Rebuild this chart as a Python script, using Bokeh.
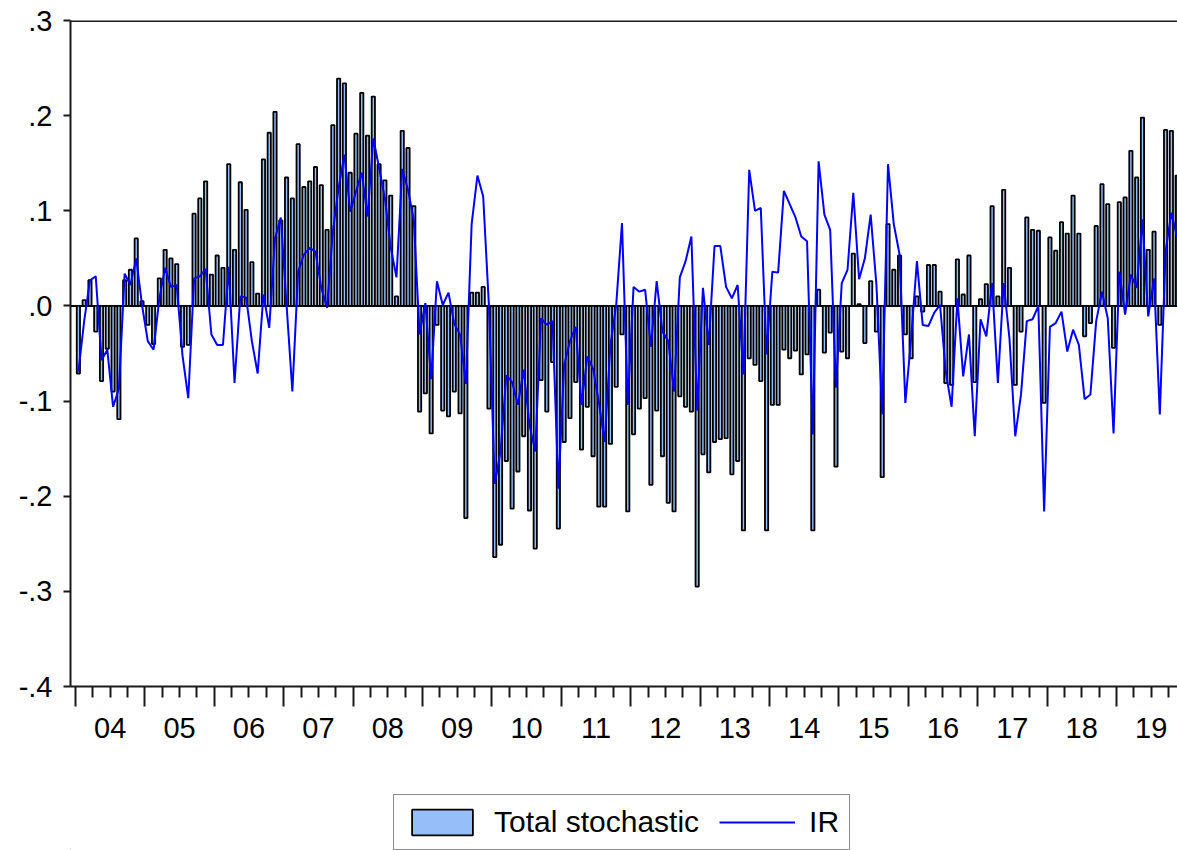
from bokeh.plotting import figure
from bokeh.layouts import column
from bokeh.models import (Range1d, LinearAxis, FixedTicker, ColumnDataSource,
                          Span, Legend, LegendItem)
from bokeh.embed import file_html
from bokeh.resources import INLINE

# Monthly observations, 2004m01 .. 2019m11
year_labels = ["04", "05", "06", "07", "08", "09", "10", "11",
               "12", "13", "14", "15", "16", "17", "18", "19"]

total_stochastic = [
    -0.071, 0.006, 0.027, -0.027, -0.079, -0.045, -0.090, -0.119, 0.027, 0.038, 0.071, 0.005,   # 2004
    -0.020, -0.040, 0.029, 0.059, 0.050, 0.044, -0.043, -0.041, 0.097, 0.113, 0.131, 0.033,     # 2005
    0.053, 0.040, 0.149, 0.059, 0.130, 0.101, 0.046, 0.013, 0.154, 0.182, 0.204, 0.090,         # 2006
    0.135, 0.113, 0.170, 0.125, 0.131, 0.146, 0.127, 0.080, 0.190, 0.239, 0.234, 0.140,         # 2007
    0.181, 0.224, 0.179, 0.220, 0.149, 0.132, 0.116, 0.010, 0.184, 0.166, 0.105, -0.111,        # 2008
    -0.092, -0.134, -0.020, -0.110, -0.116, -0.090, -0.113, -0.223, 0.014, 0.014, 0.020, -0.108,  # 2009
    -0.264, -0.251, -0.163, -0.213, -0.174, -0.137, -0.215, -0.255, -0.078, -0.111, -0.059, -0.234,  # 2010
    -0.143, -0.118, -0.080, -0.151, -0.106, -0.158, -0.211, -0.211, -0.145, -0.085, -0.030, -0.216,  # 2011
    -0.135, -0.108, -0.097, -0.188, -0.110, -0.158, -0.207, -0.216, -0.095, -0.106, -0.111, -0.295,  # 2012
    -0.156, -0.175, -0.143, -0.140, -0.139, -0.177, -0.163, -0.236, -0.055, -0.062, -0.079, -0.236,  # 2013
    -0.104, -0.104, -0.046, -0.055, -0.047, -0.072, -0.051, -0.236, 0.017, -0.049, -0.028, -0.169,   # 2014
    -0.048, -0.055, 0.055, 0.002, -0.039, 0.026, -0.027, -0.180, 0.086, 0.038, 0.053, -0.030,       # 2015
    -0.055, 0.010, -0.006, 0.043, 0.043, 0.015, -0.081, -0.083, 0.049, 0.012, 0.053, -0.080,        # 2016
    0.007, 0.023, 0.105, 0.010, 0.122, 0.040, -0.083, -0.027, 0.093, 0.080, 0.079, -0.102,          # 2017
    0.072, 0.058, 0.088, 0.076, 0.116, 0.076, -0.032, -0.018, 0.084, 0.128, 0.107, -0.044,          # 2018
    0.109, 0.114, 0.163, 0.135, 0.198, 0.059, 0.078, -0.020, 0.185, 0.184, 0.137,                   # 2019
]

ir = [
    -0.069, -0.016, 0.027, 0.031, -0.057, -0.046, -0.106, -0.087, 0.034, 0.022, 0.050, 0.001,
    -0.037, -0.046, 0.008, 0.040, 0.020, 0.022, -0.052, -0.097, 0.029, 0.031, 0.039, -0.030,
    -0.041, -0.041, 0.041, -0.081, 0.010, 0.009, -0.037, -0.071, 0.012, -0.023, 0.071, 0.093,
    0.001, -0.090, 0.036, 0.054, 0.061, 0.057, 0.019, -0.002, 0.078, 0.124, 0.159, 0.099,
    0.120, 0.140, 0.094, 0.176, 0.145, 0.113, 0.062, 0.030, 0.144, 0.122, 0.090, -0.030,
    0.003, -0.077, 0.026, 0.001, 0.014, -0.019, -0.030, -0.082, 0.086, 0.137, 0.115, -0.001,
    -0.187, -0.153, -0.073, -0.080, -0.104, -0.067, -0.125, -0.153, -0.013, -0.020, -0.016, -0.192,
    -0.062, -0.037, -0.022, -0.104, -0.053, -0.066, -0.101, -0.143, -0.041, 0.001, 0.087, -0.104,
    0.020, 0.015, 0.017, -0.043, 0.026, -0.027, -0.037, -0.090, 0.030, 0.047, 0.073, -0.110,
    0.019, -0.041, 0.063, 0.063, 0.020, 0.008, 0.022, -0.072, 0.143, 0.100, 0.103, -0.051,
    0.036, 0.035, 0.121, 0.107, 0.093, 0.073, 0.068, -0.135, 0.152, 0.096, 0.080, -0.086,
    0.024, 0.038, 0.119, 0.028, 0.050, 0.096, 0.022, -0.114, 0.149, 0.086, 0.054, -0.102,
    -0.034, 0.047, -0.020, -0.021, -0.007, 0.001, -0.070, -0.106, 0.008, -0.074, -0.030, -0.137,
    -0.014, -0.032, 0.024, -0.081, 0.024, -0.034, -0.137, -0.093, -0.016, -0.014, 0.000, -0.216,
    -0.022, -0.018, -0.006, -0.048, -0.025, -0.041, -0.098, -0.093, -0.016, 0.015, -0.013, -0.134,
    0.036, -0.009, 0.033, 0.019, 0.091, -0.011, 0.029, -0.114, 0.057, 0.098, 0.072,
]

y_ticks = [-0.4, -0.3, -0.2, -0.1, 0.0, 0.1, 0.2, 0.3]
y_tick_labels = ["-.4", "-.3", "-.2", "-.1", ".0", ".1", ".2", ".3"]
series_names = ["Total stochastic", "IR"]

n = len(total_stochastic)
src = ColumnDataSource(dict(x=list(range(n)), bar=total_stochastic, ir=ir))

FONT = "Liberation Sans"
AX = "#1a1a1a"
BAR_FILL = "#96BEF8"
LINE_COL = "#0000FF"

p = figure(width=1177, height=760, output_backend="svg", toolbar_location=None,
           x_range=Range1d(-1.365, 190.06), y_range=Range1d(-0.4, 0.3),
           x_axis_location=None, y_axis_location=None,
           min_border_left=70, min_border_right=0, min_border_top=20,
           min_border_bottom=74)
p.grid.visible = False
p.outline_line_color = None
p.background_fill_color = "white"
p.border_fill_color = "white"

# zero line and top frame line
p.add_layout(Span(location=0, dimension="width", line_color="black",
                  line_width=2, level="underlay"))
p.add_layout(Span(location=0.3, dimension="width", line_color=AX, line_width=3))

bars = p.vbar(x="x", top="bar", bottom=0, width=0.56, source=src,
              fill_color=BAR_FILL, line_color="black", line_width=1.8)
line = p.line(x="x", y="ir", source=src, line_color=LINE_COL, line_width=2)

# left axis
yaxis = LinearAxis(ticker=FixedTicker(ticks=y_ticks, minor_ticks=[]),
                   major_label_overrides=dict(zip(y_ticks, y_tick_labels)),
                   major_tick_out=7, major_tick_in=0, minor_tick_line_color=None,
                   major_label_standoff=11, axis_line_color=AX, axis_line_width=2,
                   major_tick_line_color=AX, major_tick_line_width=2,
                   major_label_text_font=FONT, major_label_text_font_size="29px",
                   major_label_text_color="black")
p.add_layout(yaxis, "left")

# bottom axis: tick marks at year / quarter boundaries
year_bounds = [12 * k - 0.5 for k in range(len(year_labels) + 1)]
quarter_bounds = [3 * k - 0.5 for k in range(4 * len(year_labels) + 1) if k % 4]
year_centers = [12 * k + 5.5 for k in range(len(year_labels))]

xa = LinearAxis(ticker=FixedTicker(ticks=year_bounds, minor_ticks=quarter_bounds),
                major_tick_out=20, major_tick_in=0, minor_tick_out=11, minor_tick_in=0,
                axis_line_color=AX, axis_line_width=2,
                major_tick_line_color=AX, major_tick_line_width=2,
                minor_tick_line_color=AX, minor_tick_line_width=2,
                major_label_text_font_size="0px", major_label_standoff=0,
                major_label_text_alpha=0)
p.add_layout(xa, "below")

xb = LinearAxis(ticker=FixedTicker(ticks=year_centers, minor_ticks=[]),
                major_label_overrides=dict(zip(year_centers, year_labels)),
                axis_line_color=None, major_tick_line_color=None,
                minor_tick_line_color=None, major_tick_out=0, major_tick_in=0,
                minor_tick_out=0, minor_tick_in=0, major_label_standoff=11,
                major_label_text_font=FONT, major_label_text_font_size="29px",
                major_label_text_color="black")
p.add_layout(xb, "below")

# legend strip (separate figure beneath the chart); the proxy renderers hold
# just the first observation and sit outside the view, so only the legend shows
legend_src = ColumnDataSource(dict(x=[0], bar=total_stochastic[:1], ir=ir[:1]))
q = figure(width=1177, height=90, output_backend="svg", toolbar_location=None,
           x_range=Range1d(1000, 1001), y_range=Range1d(1000, 1001),
           x_axis_location=None, y_axis_location=None,
           min_border_left=70, min_border_right=0, min_border_top=0,
           min_border_bottom=0)
q.grid.visible = False
q.outline_line_color = None
q.border_fill_color = "white"
q.background_fill_color = "white"
lb = q.vbar(x="x", top="bar", bottom=0, width=0.56, source=legend_src,
            fill_color=BAR_FILL, line_color="black", line_width=1.8)
ll = q.line(x="x", y="ir", source=legend_src, line_color=LINE_COL, line_width=2)

legend = Legend(items=[LegendItem(label=series_names[0], renderers=[lb]),
                       LegendItem(label=series_names[1], renderers=[ll])],
                orientation="horizontal", location=(323, 0),
                glyph_width=76, glyph_height=32, label_standoff=14, spacing=20,
                padding=10, margin=0,
                label_text_font=FONT, label_text_font_size="30px",
                label_text_color="black",
                border_line_color=AX, border_line_width=1.5,
                background_fill_color="white", background_fill_alpha=1)
q.add_layout(legend, "center")

layout = column(p, q, spacing=0)
open("out.html", "w").write(file_html(layout, INLINE))
